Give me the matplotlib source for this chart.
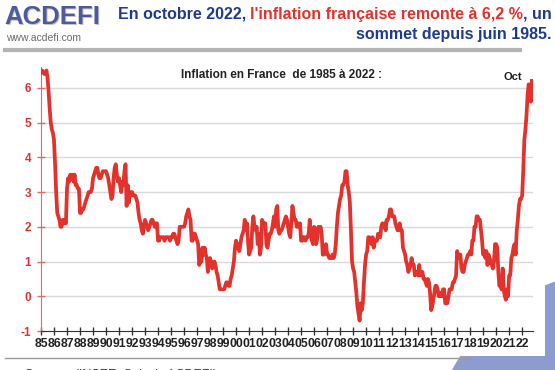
import matplotlib
matplotlib.use('Agg')
import matplotlib.pyplot as plt
from matplotlib.patches import Ellipse, Rectangle
import numpy as np

# Inflation mensuelle en France (glissement annuel, %), 1985 -> oct 2022
years = list(range(1985, 2023))
inflation = {
    1985: [6.45, 6.5, 6.45, 6.4, 6.4, 6.5, 6.3, 5.9, 5.4, 5.0, 4.8, 4.7],
    1986: [4.5, 3.8, 3.0, 2.4, 2.3, 2.2, 2.0, 2.0, 2.2, 2.1, 2.2, 2.1],
    1987: [3.1, 3.4, 3.3, 3.5, 3.4, 3.5, 3.3, 3.5, 3.2, 3.2, 3.1, 3.1],
    1988: [2.4, 2.4, 2.5, 2.5, 2.6, 2.7, 2.8, 2.9, 3.0, 3.0, 3.0, 3.1],
    1989: [3.4, 3.5, 3.6, 3.7, 3.7, 3.5, 3.4, 3.4, 3.5, 3.6, 3.6, 3.6],
    1990: [3.6, 3.5, 3.4, 3.2, 3.0, 2.8, 2.9, 3.4, 3.7, 3.8, 3.5, 3.3],
    1991: [3.4, 3.2, 3.0, 3.3, 3.2, 3.6, 3.8, 2.6, 3.2, 2.7, 3.0, 2.9],
    1992: [3.0, 2.9, 2.9, 2.9, 2.8, 2.7, 2.4, 2.2, 2.1, 1.9, 1.8, 2.0],
    1993: [2.2, 2.1, 2.0, 1.9, 2.0, 2.1, 2.2, 2.2, 2.1, 2.0, 2.1, 2.1],
    1994: [1.6, 1.6, 1.7, 1.7, 1.7, 1.7, 1.6, 1.7, 1.7, 1.7, 1.7, 1.6],
    1995: [1.7, 1.7, 1.8, 1.8, 1.7, 1.6, 1.5, 1.6, 2.0, 2.0, 2.0, 2.0],
    1996: [2.0, 2.1, 2.3, 2.4, 2.5, 2.3, 2.2, 1.6, 1.6, 1.8, 1.8, 1.7],
    1997: [1.6, 1.5, 0.9, 1.0, 1.0, 1.4, 1.2, 1.4, 1.2, 1.1, 0.7, 1.0],
    1998: [1.1, 1.0, 0.8, 0.9, 1.0, 0.9, 0.7, 0.6, 0.4, 0.2, 0.2, 0.2],
    1999: [0.2, 0.2, 0.3, 0.4, 0.4, 0.3, 0.3, 0.5, 0.6, 0.8, 1.0, 1.4],
    2000: [1.6, 1.4, 1.5, 1.3, 1.5, 1.7, 1.8, 1.9, 2.2, 1.9, 2.1, 1.6],
    2001: [1.2, 1.3, 1.4, 2.0, 2.3, 2.0, 1.9, 2.0, 1.5, 1.8, 1.2, 1.4],
    2002: [2.2, 2.1, 2.1, 2.1, 1.5, 1.4, 1.6, 1.8, 1.8, 1.9, 2.1, 2.3],
    2003: [2.0, 2.5, 2.6, 1.9, 1.8, 1.9, 1.9, 2.0, 2.1, 2.2, 2.3, 2.2],
    2004: [2.0, 1.8, 1.7, 2.1, 2.6, 2.4, 2.2, 2.2, 2.0, 2.1, 2.0, 2.1],
    2005: [1.6, 1.6, 1.7, 1.7, 1.6, 1.7, 1.7, 1.8, 2.2, 1.8, 1.6, 1.5],
    2006: [2.0, 1.9, 1.5, 1.7, 2.0, 1.9, 2.0, 1.8, 1.2, 1.2, 1.4, 1.5],
    2007: [1.2, 1.2, 1.1, 1.1, 1.1, 1.2, 1.1, 1.2, 1.5, 2.0, 2.4, 2.6],
    2008: [2.8, 2.9, 3.2, 3.2, 3.3, 3.6, 3.6, 3.2, 3.0, 2.7, 1.9, 1.0],
    2009: [0.8, 0.7, 0.4, 0.1, -0.3, -0.5, -0.7, -0.2, -0.4, -0.2, 0.4, 0.9],
    2010: [1.2, 1.3, 1.7, 1.7, 1.6, 1.5, 1.7, 1.4, 1.6, 1.6, 1.6, 1.8],
    2011: [1.8, 1.7, 2.0, 2.1, 2.0, 2.1, 1.9, 2.2, 2.2, 2.3, 2.5, 2.5],
    2012: [2.3, 2.3, 2.3, 2.1, 2.0, 1.9, 1.9, 2.1, 1.9, 1.9, 1.4, 1.3],
    2013: [1.2, 1.0, 0.9, 0.7, 0.8, 0.9, 1.1, 0.9, 0.9, 0.6, 0.7, 0.7],
    2014: [0.6, 0.9, 0.6, 0.7, 0.7, 0.5, 0.5, 0.4, 0.3, 0.5, 0.4, 0.1],
    2015: [-0.4, -0.3, -0.1, 0.1, 0.3, 0.3, 0.2, 0.0, 0.0, 0.1, 0.0, 0.2],
    2016: [0.2, -0.2, -0.2, -0.2, 0.0, 0.2, 0.2, 0.2, 0.4, 0.4, 0.5, 0.6],
    2017: [1.3, 1.2, 1.1, 1.2, 0.8, 0.7, 0.7, 0.9, 1.0, 1.1, 1.2, 1.2],
    2018: [1.3, 1.2, 1.6, 1.6, 2.0, 2.0, 2.3, 2.3, 2.2, 2.2, 1.9, 1.6],
    2019: [1.2, 1.3, 1.1, 1.3, 0.9, 1.2, 1.1, 1.0, 0.9, 0.8, 1.0, 1.5],
    2020: [1.5, 1.4, 0.7, 0.3, 0.4, 0.2, 0.8, 0.2, 0.0, -0.1, 0.2, 0.0],
    2021: [0.6, 0.6, 1.1, 1.2, 1.4, 1.5, 1.2, 1.9, 2.2, 2.6, 2.8, 2.8],
    2022: [2.9, 3.6, 4.5, 4.8, 5.2, 5.8, 6.1, 5.9, 5.6, 6.2],
}
year_labels = ['%02d' % (y % 100) for y in years]
y_ticks = [-1, 0, 1, 2, 3, 4, 5, 6]

x = []
y = []
for yr in years:
    for m, v in enumerate(inflation[yr]):
        x.append(yr + m / 12)
        y.append(v)

W, H = 555, 370
fig = plt.figure(figsize=(W / 100, H / 100), dpi=100)
fig.patch.set_facecolor('white')
renderer = fig.canvas.get_renderer()

def fx(px):
    return px / W

def fy(py):
    return 1 - py / H

def fit_size(s, width, family, weight='bold', start=14):
    # font size so that the string spans about `width` pixels
    t = fig.text(0, 0, s, family=family, weight=weight, fontsize=start)
    w = t.get_window_extent(renderer).width
    t.remove()
    return start * width / w

blue = '#1f3b8f'
red = '#e3322b'
head_font = ['Liberation Sans', 'DejaVu Sans']

# globe-like decoration bottom right, hidden under the white chart area
fig.patches.append(Ellipse((fx(617), fy(458)), 2 * 187 / W, 2 * 187 / H,
                           transform=fig.transFigure, facecolor='#8c9bd0',
                           edgecolor='none', zorder=0))
fig.patches.append(Rectangle((0, fy(356)), fx(545), fy(55) - fy(356),
                             transform=fig.transFigure, facecolor='white',
                             edgecolor='none', zorder=0.5))

# logo
logo_size = fit_size('ACDEFI', 96, head_font)
fig.text(fx(5), fy(18), 'ACDEFI', family=head_font, weight='bold', fontsize=logo_size,
         color='#c4c4c4', va='center', ha='left')
fig.text(fx(4), fy(17), 'ACDEFI', family=head_font, weight='bold', fontsize=logo_size,
         color='#4b5b9e', va='center', ha='left')
fig.text(fx(6), fy(38), 'www.acdefi.com', family=head_font, fontsize=7.5,
         color='#6a6a6a', va='center', ha='left')

# header title in two colours
pieces = [('En octobre 2022, ', blue), ("l'inflation française remonte à 6,2 %", red),
          (', un', blue)]
head_size = fit_size(''.join(s for s, c in pieces), 434, head_font)
widths = []
for s, c in pieces:
    t = fig.text(0, 0, s, family=head_font, weight='bold', fontsize=head_size)
    widths.append(t.get_window_extent(renderer).width)
    t.remove()
xpos = 552 - sum(widths)
for (s, c), w in zip(pieces, widths):
    fig.text(fx(xpos), fy(14), s, family=head_font, weight='bold', fontsize=head_size,
             color=c, va='center', ha='left')
    xpos += w
fig.text(fx(552), fy(35), 'sommet depuis juin 1985.', family=head_font, weight='bold',
         fontsize=head_size, color=blue, va='center', ha='right')

# separators
fig.add_artist(plt.Line2D([fx(5), fx(520)], [fy(50), fy(50)], color='#b4b4b4', lw=3))
fig.add_artist(plt.Line2D([fx(5), fx(470)], [fy(358), fy(358)], color='#9a9a9a', lw=1))
fig.text(fx(25), fy(375), 'Source : (INSEE, Calculs ACDEFI)', family=head_font,
         fontsize=9, color='#333333', va='center', ha='left')

ax = fig.add_axes([fx(41), fy(331), fx(533) - fx(41), fy(67) - fy(331)])
ax.set_zorder(2)
ax.set_facecolor('none')
ax.plot(x, y, color=red, lw=2.7, solid_joinstyle='round', zorder=3)
ax.set_xlim(1985, 2022 + 10 / 12)
ax.set_ylim(-1, 6.6)
ax.set_yticks(y_ticks)
ax.set_yticklabels([str(v) for v in y_ticks], color=red, fontweight='bold',
                   fontsize=8.5, family=head_font)
ax.set_xticks(years)
ax.set_xticklabels(year_labels, fontweight='bold', fontsize=8.8, color='#222222',
                   family=head_font)
ax.tick_params(axis='x', direction='inout', length=6, width=1, color='#333333', pad=2)
ax.tick_params(axis='y', direction='inout', length=6, width=1, color='#e06a6a', pad=4)
for v in y_ticks[1:]:
    ax.axhline(v, color='#d9d9d9', lw=1, zorder=1)
ax.spines['top'].set_visible(False)
ax.spines['right'].set_visible(False)
ax.spines['left'].set_color('#e06a6a')
ax.spines['bottom'].set_color('#333333')

fig.text(fx(282), fy(75), 'Inflation en France  de 1985 à 2022 :', family=head_font,
         fontsize=8.5, fontweight='bold', color='#222222', ha='center', va='center')
fig.text(fx(522), fy(77), 'Oct', family=head_font, fontsize=8, fontweight='bold',
         color='#222222', ha='right', va='center')

fig.savefig('out.png', dpi=100)
